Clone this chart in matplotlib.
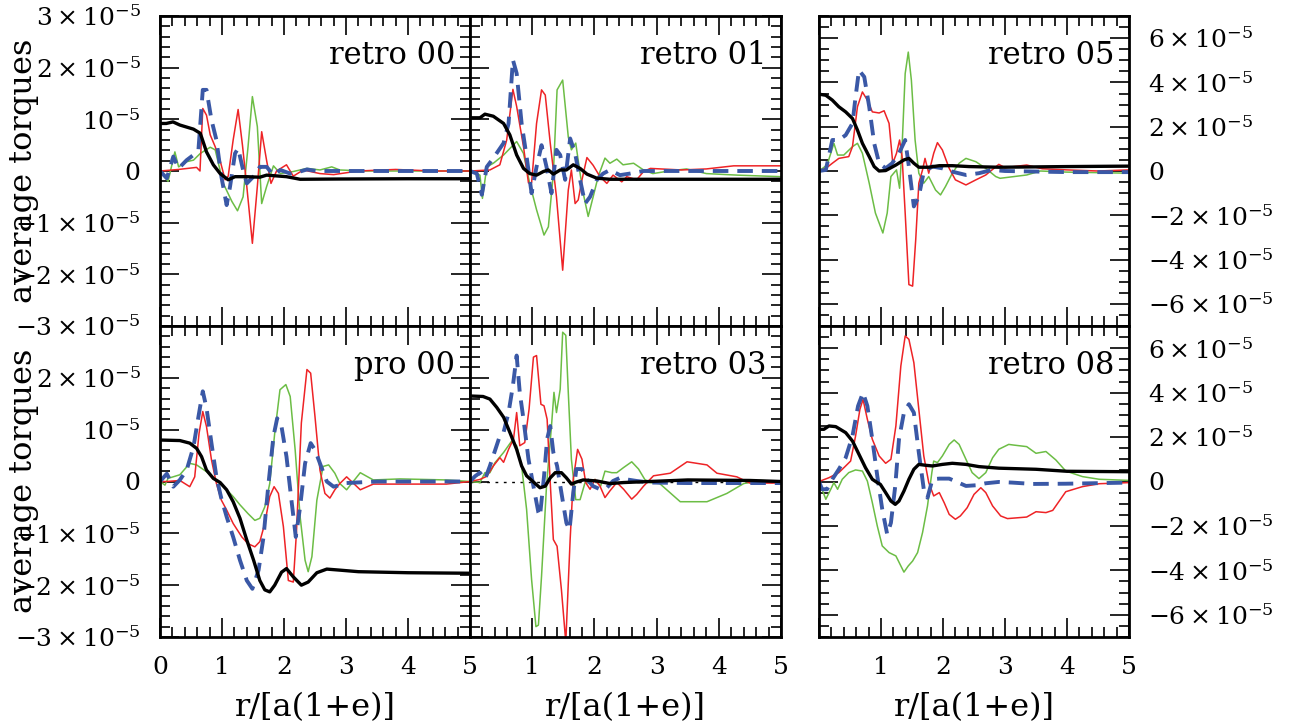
import matplotlib
matplotlib.use("Agg")
import numpy as np
import matplotlib.pyplot as plt
from matplotlib.ticker import MultipleLocator, FixedLocator, FixedFormatter

plt.rcParams['font.family'] = ['DejaVu Serif']
plt.rcParams['mathtext.fontset'] = 'dejavuserif'

# -----------------------------
# Data (torques in units of 1e-5)
# -----------------------------
# retro 00
retro00_black_r = [0, 0.1, 0.21, 0.32, 0.54, 0.65, 0.75, 0.86, 0.97, 1.10, 1.21, 1.40, 1.61, 1.72, 2.04, 2.26, 2.9, 4.0, 5.0]
retro00_black = [0.92, 0.92, 0.95, 0.89, 0.81, 0.73, 0.37, 0.12, -0.05, -0.17, -0.11, -0.11, -0.12, -0.08, -0.11, -0.16, -0.155, -0.15, -0.15]
retro00_red_r = [0, 0.3, 0.59, 0.645, 0.69, 0.75, 0.81, 0.89, 0.97, 1.05, 1.10, 1.18, 1.26, 1.33, 1.40, 1.49, 1.57, 1.64, 1.72, 1.79, 1.88, 2.04, 2.15, 2.31, 2.58, 2.8, 3.2, 3.8, 4.4, 5.0]
retro00_red = [0, 0.03, 0.07, 0.0, 1.21, 1.08, 0.70, 0.47, 0.2, -0.17, -0.1, 0.6, 1.19, 0.5, -0.3, -1.40, -0.3, 0.76, 0.2, -0.24, 0.0, 0.12, -0.1, 0.02, -0.05, -0.07, 0.0, 0.03, 0.0, 0.0]
retro00_green_r = [0, 0.13, 0.24, 0.3, 0.43, 0.54, 0.65, 0.81, 0.89, 1.02, 1.16, 1.25, 1.34, 1.42, 1.49, 1.57, 1.64, 1.72, 1.83, 1.94, 2.15, 2.37, 2.58, 2.77, 2.9, 3.3, 4.0, 5.0]
retro00_green = [0, -0.2, 0.37, 0.08, 0.18, 0.21, 0.34, 0.46, 0.41, -0.24, -0.59, -0.77, -0.5, 0.47, 1.44, 0.86, -0.63, -0.3, 0.1, -0.05, -0.01, 0.05, 0.02, 0.08, 0.02, 0.0, 0.0, 0.0]
retro00_blue_r = [0, 0.11, 0.215, 0.3, 0.43, 0.54, 0.62, 0.69, 0.75, 0.83, 0.91, 0.99, 1.075, 1.13, 1.21, 1.26, 1.34, 1.40, 1.53, 1.61, 1.72, 1.83, 1.94, 2.1, 2.26, 2.37, 2.53, 3.0, 4.0, 5.0]
retro00_blue = [0, -0.14, 0.28, 0.05, 0.21, 0.31, 0.41, 1.57, 1.57, 0.99, 0.6, -0.11, -0.66, -0.3, 0.34, 0.44, 0.02, -0.24, -0.08, 0.08, 0.08, -0.08, 0.02, -0.05, -0.01, 0.03, 0.0, 0.0, 0.0, 0.0]

# retro 01
retro01_black_r = [0, 0.16, 0.24, 0.375, 0.54, 0.64, 0.75, 0.86, 0.96, 1.07, 1.18, 1.26, 1.34, 1.45, 1.55, 1.66, 1.77, 1.88, 2.04, 2.25, 2.9, 4.0, 5.0]
retro01_black = [1.03, 1.03, 1.10, 1.06, 0.92, 0.70, 0.31, 0.05, -0.05, -0.08, -0.01, 0.02, -0.06, 0.02, 0.02, 0.12, 0.05, -0.06, -0.14, -0.16, -0.16, -0.16, -0.16]
retro01_red_r = [0, 0.32, 0.48, 0.59, 0.69, 0.75, 0.86, 0.94, 0.99, 1.07, 1.15, 1.21, 1.29, 1.39, 1.49, 1.58, 1.63, 1.69, 1.74, 1.80, 1.88, 1.98, 2.09, 2.2, 2.3, 2.44, 2.52, 2.68, 2.79, 2.9, 3.4, 3.8, 4.24, 5.0]
retro01_red = [0, 0.02, 0.12, 0.6, 1.58, 1.25, 0.47, -0.23, -0.23, 0.92, 1.57, 1.47, 0.54, -0.5, -1.92, -0.37, 0.02, -0.63, -0.56, -0.17, 0.26, 0.11, -0.11, -0.24, -0.08, -0.21, -0.11, -0.17, -0.01, 0.05, 0.02, 0.04, 0.1, 0.1]
retro01_green_r = [0, 0.16, 0.2, 0.27, 0.375, 0.54, 0.75, 0.86, 0.96, 1.07, 1.19, 1.26, 1.34, 1.40, 1.49, 1.58, 1.63, 1.70, 1.77, 1.82, 1.90, 1.98, 2.06, 2.17, 2.25, 2.36, 2.46, 2.63, 2.79, 2.94, 3.2, 3.48, 3.8, 4.3, 5.0]
retro01_green = [0, -0.08, -0.53, 0.08, 0.15, 0.31, 0.57, 0.34, -0.24, -0.75, -1.24, -1.08, -0.05, 1.57, 1.76, 0.66, 0.41, 0.54, -0.05, -0.43, -0.88, -0.5, -0.11, 0.25, 0.15, 0.23, 0.12, 0.15, 0.02, -0.05, 0.0, 0.04, -0.05, -0.08, -0.11]
retro01_blue_r = [0, 0.11, 0.19, 0.27, 0.375, 0.54, 0.62, 0.69, 0.75, 0.83, 0.91, 0.99, 1.07, 1.15, 1.23, 1.31, 1.39, 1.45, 1.53, 1.61, 1.69, 1.77, 1.85, 1.93, 2.04, 2.14, 2.25, 2.41, 2.57, 2.79, 3.5, 5.0]
retro01_blue = [0, -0.05, -0.46, 0.08, 0.25, 0.54, 0.92, 2.15, 1.89, 0.92, 0.28, -0.43, 0.08, 0.5, 0.08, -0.43, 0.41, 0.31, -0.17, 0.63, 0.34, -0.17, -0.63, -0.5, -0.17, -0.05, 0.02, -0.08, -0.05, 0.0, 0.0, 0.0]

# retro 05
retro05_black_r = [0, 0.11, 0.215, 0.32, 0.43, 0.54, 0.62, 0.70, 0.81, 0.89, 0.97, 1.075, 1.24, 1.37, 1.45, 1.53, 1.61, 1.77, 1.94, 2.15, 2.42, 2.9, 4.0, 5.0]
retro05_black = [3.47, 3.42, 3.2, 2.9, 2.67, 2.37, 1.85, 1.25, 0.65, 0.2, 0.0, 0.02, 0.27, 0.5, 0.57, 0.35, 0.17, 0.17, 0.24, 0.24, 0.2, 0.17, 0.2, 0.22]
retro05_red_r = [0, 0.11, 0.215, 0.32, 0.48, 0.54, 0.62, 0.70, 0.78, 0.86, 0.97, 1.05, 1.13, 1.19, 1.25, 1.30, 1.34, 1.39, 1.45, 1.51, 1.56, 1.61, 1.67, 1.71, 1.77, 1.85, 1.91, 1.99, 2.10, 2.2, 2.37, 2.53, 2.69, 2.9, 3.0, 3.35, 3.6, 4.0, 4.5, 5.0]
retro05_red = [0, 0.12, 0.35, 0.57, 0.65, 1.1, 2.9, 3.57, 3.2, 2.67, 2.62, 2.72, 2.15, 0.35, 0.8, 1.4, 0.65, -1.9, -5.13, -5.2, -3.1, -0.55, 0.05, 0.57, -0.1, 0.8, 1.28, 0.95, 0.12, -0.4, -0.63, -0.4, -0.18, 0.3, 0.15, 0.27, 0.1, 0.05, 0.0, 0.05]
retro05_green_r = [0, 0.13, 0.19, 0.24, 0.30, 0.40, 0.54, 0.62, 0.70, 0.81, 0.91, 1.03, 1.10, 1.16, 1.25, 1.30, 1.34, 1.39, 1.44, 1.49, 1.55, 1.61, 1.69, 1.77, 1.88, 1.96, 2.04, 2.15, 2.26, 2.37, 2.53, 2.69, 2.85, 2.92, 3.35, 3.57, 4.0, 5.0]
retro05_green = [0, 0.27, 0.8, 1.25, 0.72, 0.72, 1.1, 1.25, 0.8, -0.55, -1.9, -2.8, -1.9, -0.25, 0.05, -0.78, 1.1, 4.4, 5.37, 4.1, 1.4, -0.1, -0.55, -0.25, -0.86, -1.08, -0.7, -0.1, 0.35, 0.57, 0.42, 0.12, -0.25, -0.33, -0.18, 0.0, -0.05, -0.1]
retro05_blue_r = [0, 0.11, 0.215, 0.32, 0.43, 0.54, 0.59, 0.645, 0.73, 0.81, 0.89, 0.97, 1.075, 1.18, 1.29, 1.39, 1.45, 1.53, 1.61, 1.69, 1.83, 1.99, 2.15, 2.37, 2.58, 2.79, 3.0, 4.0, 5.0]
retro05_blue = [0, 0.05, 1.4, 1.4, 1.62, 2.15, 3.35, 4.55, 4.25, 2.9, 1.25, 0.35, 0.12, 0.35, 0.8, 1.4, 0.2, -1.6, -1.15, -0.03, 0.2, 0.12, -0.03, -0.18, -0.1, 0.05, 0.0, -0.05, -0.05]

# pro 00
pro00_black_r = [0, 0.32, 0.48, 0.59, 0.67, 0.75, 0.86, 0.97, 1.075, 1.18, 1.29, 1.40, 1.51, 1.61, 1.69, 1.77, 1.85, 1.96, 2.04, 2.15, 2.28, 2.39, 2.53, 2.69, 2.9, 3.2, 4.0, 5.0]
pro00_black = [0.80, 0.79, 0.74, 0.64, 0.48, 0.22, 0.06, -0.02, -0.16, -0.39, -0.71, -1.13, -1.52, -1.91, -2.09, -2.13, -2.0, -1.75, -1.68, -1.84, -2.0, -1.94, -1.76, -1.69, -1.71, -1.74, -1.76, -1.77]
pro00_red_r = [0, 0.11, 0.32, 0.48, 0.56, 0.63, 0.69, 0.75, 0.83, 0.91, 0.99, 1.075, 1.18, 1.32, 1.42, 1.53, 1.61, 1.69, 1.77, 1.84, 1.91, 1.99, 2.07, 2.15, 2.20, 2.28, 2.37, 2.43, 2.5, 2.58, 2.66, 2.74, 2.82, 2.9, 3.01, 3.23, 3.44, 3.87, 4.62, 5.0]
pro00_red = [0, 0.0, 0.02, -0.1, 0.09, 0.93, 1.35, 1.06, 0.42, -0.04, -0.36, -0.55, -0.81, -1.07, -1.2, -1.26, -1.16, -0.81, -0.29, -0.1, -0.23, -0.87, -1.91, -1.94, -1.0, 1.13, 2.16, 2.09, 1.25, 0.22, -0.23, -0.32, -0.16, -0.04, 0.09, -0.16, -0.05, -0.05, -0.05, 0.0]
pro00_green_r = [0, 0.08, 0.13, 0.32, 0.48, 0.59, 0.75, 0.86, 0.97, 1.075, 1.18, 1.29, 1.42, 1.53, 1.61, 1.69, 1.77, 1.85, 1.935, 2.03, 2.1, 2.18, 2.26, 2.34, 2.39, 2.45, 2.53, 2.63, 2.72, 2.82, 2.9, 3.01, 3.23, 3.44, 3.87, 4.62, 5.0]
pro00_green = [0, -0.07, 0.06, 0.13, 0.35, 0.32, 0.19, 0.06, -0.04, -0.16, -0.29, -0.45, -0.62, -0.75, -0.71, -0.49, -0.04, 0.93, 1.77, 1.87, 1.64, 0.61, -0.68, -1.52, -1.74, -1.45, -0.36, 0.29, 0.32, 0.16, -0.04, -0.16, 0.17, 0.03, 0.05, 0.03, 0.0]
pro00_blue_r = [0, 0.11, 0.215, 0.32, 0.43, 0.54, 0.62, 0.69, 0.75, 0.83, 0.91, 0.99, 1.075, 1.18, 1.29, 1.40, 1.49, 1.59, 1.67, 1.75, 1.83, 1.89, 1.96, 2.04, 2.12, 2.19, 2.26, 2.34, 2.43, 2.5, 2.58, 2.69, 2.8, 2.9, 3.0, 3.5, 5.0]
pro00_blue = [0, 0.15, -0.1, 0.03, 0.22, 0.67, 1.25, 1.74, 1.42, 0.74, 0.09, -0.33, -0.68, -1.07, -1.52, -1.91, -2.07, -1.71, -1.07, -0.04, 0.87, 1.22, 1.06, 0.48, -0.36, -1.07, -0.49, 0.35, 0.74, 0.61, 0.35, 0.0, -0.1, -0.07, -0.03, 0.0, 0.0]

# retro 03
retro03_black_r = [0, 0.21, 0.32, 0.43, 0.54, 0.64, 0.75, 0.83, 0.91, 1.02, 1.125, 1.21, 1.29, 1.37, 1.47, 1.55, 1.63, 1.71, 1.82, 2.04, 2.25, 2.47, 2.89, 3.5, 4.5, 5.0]
retro03_black = [1.65, 1.64, 1.59, 1.43, 1.24, 0.95, 0.62, 0.3, 0.11, -0.01, -0.12, -0.09, 0.07, 0.17, 0.17, 0.07, -0.05, -0.01, 0.03, 0.01, -0.04, -0.02, 0.0, 0.03, 0.02, 0.0]
retro03_red_r = [0, 0.16, 0.27, 0.375, 0.48, 0.54, 0.62, 0.70, 0.75, 0.80, 0.88, 0.95, 1.02, 1.07, 1.14, 1.19, 1.24, 1.29, 1.34, 1.40, 1.47, 1.54, 1.61, 1.66, 1.73, 1.80, 1.86, 1.93, 2.01, 2.09, 2.17, 2.25, 2.36, 2.47, 2.60, 2.68, 2.79, 2.95, 3.22, 3.49, 3.81, 3.97, 4.29, 4.5, 5.0]
retro03_red = [0, 0.04, 0.1, 0.3, 0.46, 0.37, 0.62, 0.82, 1.33, 0.69, 0.75, 1.4, 2.4, 2.43, 1.49, 1.46, 1.2, -0.02, -1.12, -1.25, -2.09, -3.1, -1.12, 0.04, 0.62, 0.43, -0.02, -0.15, 0.04, -0.09, -0.31, -0.18, -0.02, -0.15, -0.34, -0.25, -0.09, 0.11, 0.16, 0.38, 0.32, 0.16, 0.09, -0.03, -0.03]
retro03_green_r = [0, 0.16, 0.24, 0.32, 0.40, 0.54, 0.67, 0.75, 0.83, 0.91, 0.99, 1.06, 1.10, 1.15, 1.23, 1.31, 1.35, 1.39, 1.45, 1.49, 1.54, 1.58, 1.63, 1.70, 1.77, 1.85, 1.93, 2.01, 2.10, 2.17, 2.28, 2.36, 2.47, 2.60, 2.71, 2.81, 2.89, 3.05, 3.38, 3.81, 4.13, 4.4, 4.66, 5.0]
retro03_green = [0, -0.02, 0.17, 0.17, 0.36, 0.56, 0.78, 0.69, 0.3, -0.54, -1.89, -2.8, -2.77, -1.83, -0.09, 1.07, 1.72, 1.33, 1.78, 2.88, 2.82, 1.72, 0.43, -0.35, -0.35, -0.02, -0.02, 0.04, -0.09, 0.2, 0.17, 0.17, 0.27, 0.38, 0.24, 0.04, -0.02, -0.04, -0.39, -0.39, -0.23, -0.04, 0.02, 0.0]
retro03_blue_r = [0, 0.08, 0.16, 0.24, 0.32, 0.40, 0.48, 0.54, 0.62, 0.69, 0.75, 0.80, 0.86, 0.94, 1.02, 1.10, 1.125, 1.19, 1.24, 1.29, 1.34, 1.40, 1.47, 1.55, 1.60, 1.66, 1.71, 1.80, 1.88, 1.98, 2.09, 2.2, 2.3, 2.41, 2.52, 2.68, 2.89, 3.5, 5.0]
retro03_blue = [0, 0.1, 0.17, 0.04, 0.3, 0.59, 0.88, 0.95, 1.33, 1.85, 2.43, 1.72, 1.2, 0.43, -0.09, -0.6, -0.67, 0.1, 0.82, 1.07, 0.56, 0.3, -0.22, -0.8, -0.93, -0.22, 0.24, 0.24, 0.04, -0.09, -0.15, -0.12, 0.01, 0.07, 0.04, 0.01, -0.02, -0.03, -0.03]

# retro 08
retro08_black_r = [0, 0.08, 0.16, 0.27, 0.43, 0.54, 0.645, 0.75, 0.86, 0.94, 0.99, 1.075, 1.16, 1.23, 1.29, 1.37, 1.45, 1.53, 1.61, 1.72, 1.83, 1.99, 2.15, 2.37, 2.58, 2.9, 3.5, 4.0, 5.0]
retro08_black = [2.35, 2.35, 2.5, 2.47, 2.2, 1.82, 1.22, 0.62, 0.1, -0.05, -0.13, -0.5, -0.88, -1.03, -0.88, -0.43, 0.1, 0.55, 0.77, 0.73, 0.7, 0.77, 0.82, 0.77, 0.67, 0.6, 0.55, 0.46, 0.44]
retro08_red_r = [0, 0.16, 0.32, 0.43, 0.51, 0.59, 0.66, 0.71, 0.78, 0.86, 0.97, 1.075, 1.16, 1.24, 1.32, 1.39, 1.45, 1.53, 1.61, 1.69, 1.77, 1.85, 1.94, 2.02, 2.10, 2.2, 2.28, 2.39, 2.5, 2.61, 2.69, 2.80, 2.93, 3.04, 3.35, 3.5, 3.66, 3.77, 3.98, 4.25, 4.52, 5.0]
retro08_red = [0, 0.17, 0.4, 0.7, 0.92, 2.05, 3.25, 3.7, 2.8, 1.9, 1.15, 0.82, 1.0, 2.5, 5.2, 6.55, 6.4, 5.35, 3.25, 1.15, -0.05, -0.65, -0.5, -0.96, -1.48, -1.7, -1.55, -1.18, -0.58, -0.28, -0.5, -1.1, -1.55, -1.67, -1.6, -1.36, -1.4, -1.3, -0.46, -0.23, -0.1, -0.05]
retro08_green_r = [0, 0.05, 0.11, 0.19, 0.24, 0.30, 0.375, 0.48, 0.59, 0.70, 0.78, 0.86, 0.94, 1.02, 1.13, 1.24, 1.32, 1.37, 1.44, 1.51, 1.59, 1.67, 1.75, 1.82, 1.85, 1.91, 1.99, 2.10, 2.18, 2.26, 2.37, 2.47, 2.58, 2.69, 2.80, 2.90, 3.06, 3.14, 3.35, 3.5, 3.66, 3.82, 3.98, 4.25, 4.52, 5.0]
retro08_green = [0, -0.35, -0.8, -0.35, -0.05, -0.35, 0.1, 0.4, 0.52, 0.47, 0.02, -0.95, -2.0, -2.9, -3.2, -3.35, -3.8, -4.08, -3.8, -3.58, -3.2, -2.3, -1.1, 0.4, 0.92, 0.85, 1.15, 1.67, 1.87, 1.67, 1.0, 0.4, 0.13, 0.4, 1.07, 1.45, 1.67, 1.64, 1.57, 1.27, 1.35, 0.97, 0.47, 0.22, 0.1, 0.05]
retro08_blue_r = [0, 0.05, 0.13, 0.215, 0.32, 0.43, 0.54, 0.63, 0.71, 0.78, 0.86, 0.94, 1.02, 1.10, 1.16, 1.23, 1.29, 1.37, 1.45, 1.53, 1.61, 1.69, 1.75, 1.83, 1.94, 2.10, 2.2, 2.37, 2.53, 2.69, 2.9, 3.12, 3.45, 3.98, 5.0]
retro08_blue = [0, -0.35, -0.35, 0.1, 0.55, 1.07, 2.05, 3.4, 4.0, 3.4, 1.9, 0.25, -1.25, -2.38, -1.86, -0.2, 1.9, 3.1, 3.48, 3.1, 1.3, -0.35, -0.73, 0.1, 0.13, 0.13, 0.01, -0.2, -0.17, -0.08, -0.02, -0.05, -0.11, -0.1, -0.05]

panel_names = ["retro 00", "retro 01", "retro 05", "pro 00", "retro 03", "retro 08"]

left_labels_top = ["$-3\\times10^{-5}$", "$-2\\times10^{-5}$", "$-1\\times10^{-5}$", "0",
                   "$10^{-5}$", "$2\\times10^{-5}$", "$3\\times10^{-5}$"]
left_labels_bot = left_labels_top[:-1] + [""]
right_labels = ["$-6\\times10^{-5}$", "$-4\\times10^{-5}$", "$-2\\times10^{-5}$", "0",
                "$2\\times10^{-5}$", "$4\\times10^{-5}$", "$6\\times10^{-5}$"]
x_labels_first = ["0", "1", "2", "3", "4", "5"]
x_labels_rest = ["", "1", "2", "3", "4", "5"]

RED = "#ee2326"
GREEN = "#6cbd45"
BLUE = "#3a58a6"

# -----------------------------
# Figure layout (pixel-matched)
# -----------------------------
W, H = 1296, 727
fig = plt.figure(figsize=(W / 100, H / 100), dpi=100)

col_x = [160, 470, 819]
col_w = [310, 311, 310]
row_y = [16, 326]
row_h = [310, 311]


def make_ax(ci, ri):
    return fig.add_axes([col_x[ci] / W, 1 - (row_y[ri] + row_h[ri]) / H,
                         col_w[ci] / W, row_h[ri] / H])


def style_ax(ax, wide):
    ax.set_xlim(0, 5)
    if wide:
        ax.set_ylim(-7e-5, 7e-5)
        ax.yaxis.set_major_locator(FixedLocator([k * 1e-5 for k in (-6, -4, -2, 0, 2, 4, 6)]))
        ax.yaxis.set_minor_locator(MultipleLocator(0.5e-5))
    else:
        ax.set_ylim(-3e-5, 3e-5)
        ax.yaxis.set_major_locator(FixedLocator([k * 1e-5 for k in (-3, -2, -1, 0, 1, 2, 3)]))
        ax.yaxis.set_minor_locator(MultipleLocator(0.2e-5))
    ax.xaxis.set_major_locator(FixedLocator([0, 1, 2, 3, 4, 5]))
    ax.xaxis.set_minor_locator(MultipleLocator(0.2))
    ax.tick_params(which="both", direction="in", top=True, right=True,
                   labelbottom=False, labelleft=False, width=1.2, labelsize=18)
    ax.tick_params(which="major", length=14, pad=14)
    ax.tick_params(which="minor", length=7)
    for s in ax.spines.values():
        s.set_linewidth(2.0)


def draw(ax, black_r, black, red_r, red, green_r, green, blue_r, blue):
    sc = 1e-5
    ax.plot(green_r, np.array(green) * sc, color=GREEN, lw=1.1)
    ax.plot(red_r, np.array(red) * sc, color=RED, lw=1.1)
    ax.plot(blue_r, np.array(blue) * sc, color=BLUE, lw=2.8, ls=(0, (4.0, 2.3)))
    ax.plot(black_r, np.array(black) * sc, color="black", lw=2.4)


panels = [
    (0, 0, False, (retro00_black_r, retro00_black, retro00_red_r, retro00_red,
                   retro00_green_r, retro00_green, retro00_blue_r, retro00_blue)),
    (1, 0, False, (retro01_black_r, retro01_black, retro01_red_r, retro01_red,
                   retro01_green_r, retro01_green, retro01_blue_r, retro01_blue)),
    (2, 0, True, (retro05_black_r, retro05_black, retro05_red_r, retro05_red,
                  retro05_green_r, retro05_green, retro05_blue_r, retro05_blue)),
    (0, 1, False, (pro00_black_r, pro00_black, pro00_red_r, pro00_red,
                   pro00_green_r, pro00_green, pro00_blue_r, pro00_blue)),
    (1, 1, False, (retro03_black_r, retro03_black, retro03_red_r, retro03_red,
                   retro03_green_r, retro03_green, retro03_blue_r, retro03_blue)),
    (2, 1, True, (retro08_black_r, retro08_black, retro08_red_r, retro08_red,
                  retro08_green_r, retro08_green, retro08_blue_r, retro08_blue)),
]

for k, (ci, ri, wide, series) in enumerate(panels):
    ax = make_ax(ci, ri)
    style_ax(ax, wide)
    if panel_names[k] == "retro 03":
        ax.axhline(0, color="black", lw=1.0, ls=(0, (2, 4)))
    draw(ax, *series)
    ax.text(0.952, 0.874, panel_names[k], transform=ax.transAxes,
            ha="right", va="center", fontsize=22)

    if ci == 0:
        ax.tick_params(labelleft=True)
        ax.yaxis.set_major_formatter(FixedFormatter(left_labels_top if ri == 0 else left_labels_bot))
    if ci == 2:
        ax.tick_params(labelright=True)
        ax.yaxis.set_major_formatter(FixedFormatter(right_labels))
    if ri == 1:
        ax.tick_params(labelbottom=True)
        ax.xaxis.set_major_formatter(FixedFormatter(x_labels_first if ci == 0 else x_labels_rest))

# axis titles
for yc in (1 - 171 / H, 1 - 481 / H):
    fig.text(24 / W, yc, "average torques", rotation=90, ha="center", va="center", fontsize=23)
for ci in range(3):
    fig.text((col_x[ci] + col_w[ci] / 2) / W, 1 - 708 / H, "r/[a(1+e)]",
             ha="center", va="center", fontsize=23)

fig.savefig("out.png", dpi=100)
